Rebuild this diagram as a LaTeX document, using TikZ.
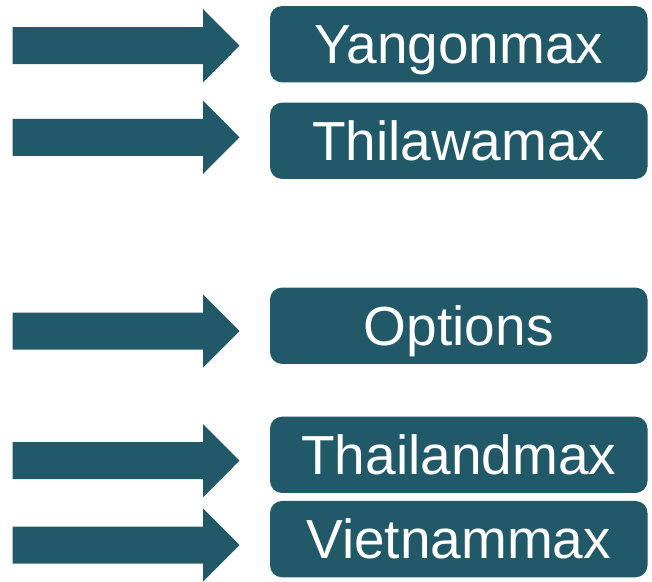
\documentclass[tikz,border=0pt]{standalone}
\usepackage{fontspec}
\setmainfont{Liberation Sans}
\definecolor{teal}{HTML}{215968}
\begin{document}
\begin{tikzpicture}[x=1pt,y=-1pt,
  label box/.style={fill=teal,rounded corners=12pt,minimum width=377.5pt,
    minimum height=76.3pt,inner sep=0pt,text=white,
    font=\fontsize{55}{60}\selectfont,text height=39.4pt,text depth=0pt},
  arrow fill/.style={fill=teal}]
\useasboundingbox (0,0) rectangle (652,581);
% block arrows on the left
\foreach \cy in {45.7,137.3,331,460.7,545}{
  \fill[arrow fill] (12.5,\cy-18.5) -- (203,\cy-18.5) -- (203,\cy-36.7)
    -- (239.5,\cy) -- (203,\cy+36.7) -- (203,\cy+18.5) -- (12.5,\cy+18.5) -- cycle;
}
% labelled boxes on the right
\node[label box] (yangon)   at (458.75,44.2)  {Yangonmax};
\node[label box] (thilawa)  at (458.75,140.8) {Thilawamax};
\node[label box] (options)  at (458.75,325.7) {Options};
\node[label box] (thailand) at (458.75,454.8) {Thailandmax};
\node[label box] (vietnam)  at (458.75,539.1) {Vietnammax};
\end{tikzpicture}
\end{document}
